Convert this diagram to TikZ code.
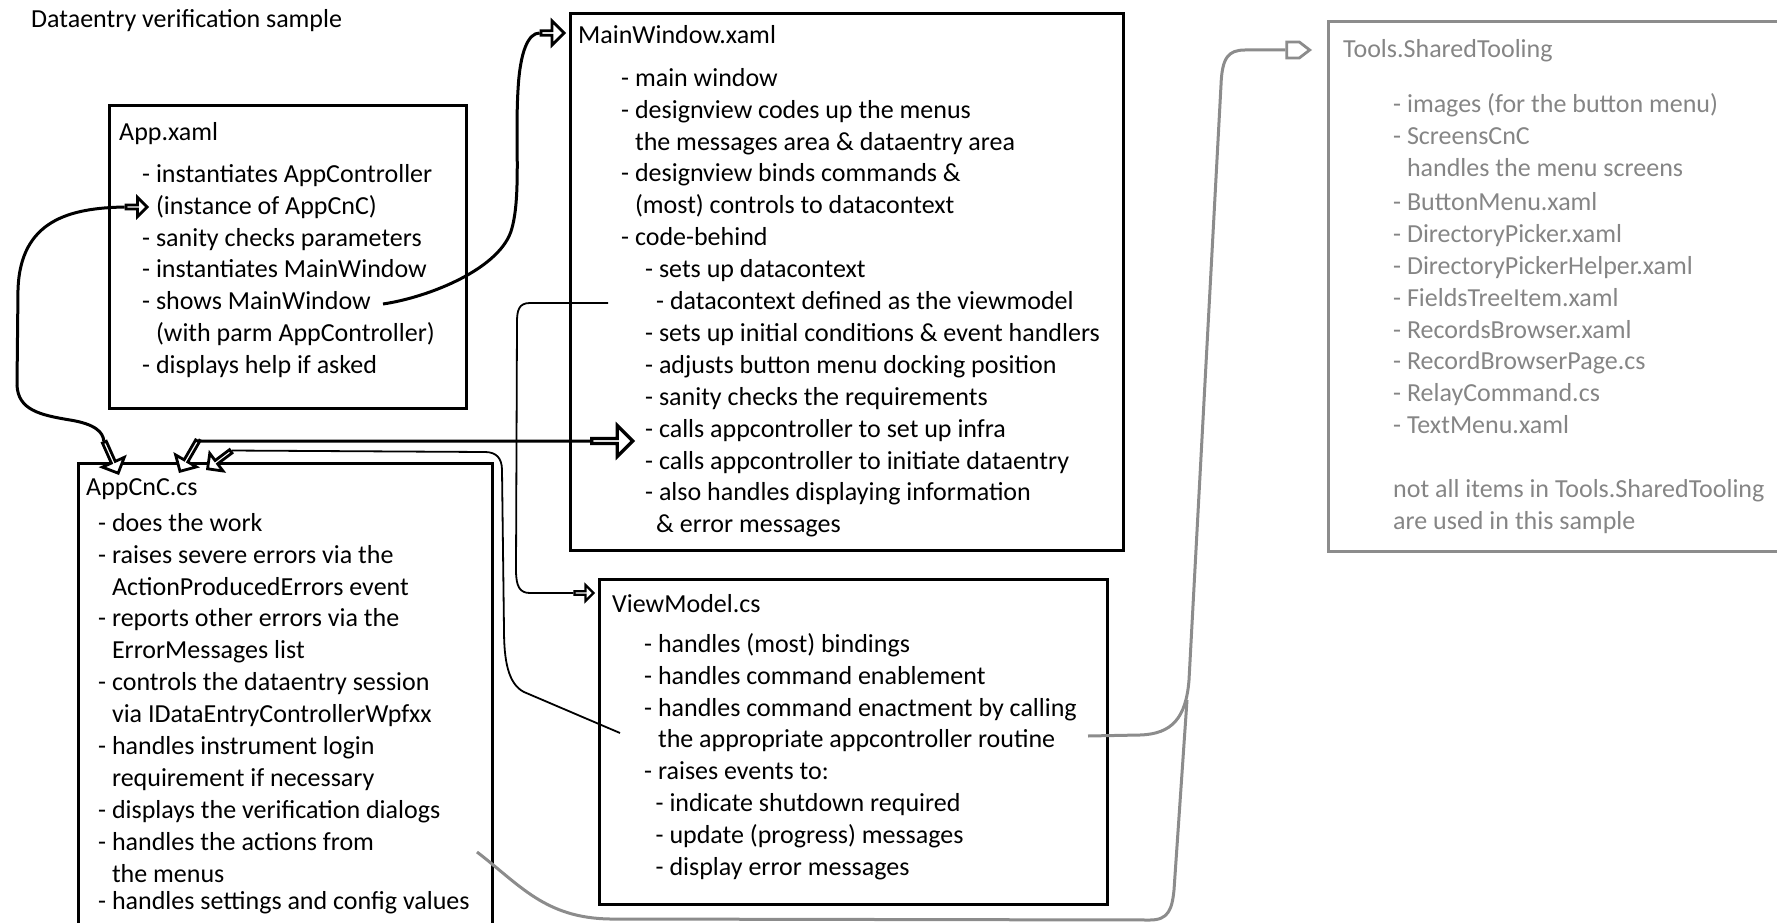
\documentclass[tikz,border=0pt]{standalone}
\usepackage{fontspec}
\setmainfont{Carlito}
\usetikzlibrary{shapes.arrows}

\definecolor{toolgray}{HTML}{8C8C8C}
\definecolor{tooltext}{HTML}{858585}

\tikzset{
  box/.style={draw, line width=3.3pt, inner sep=0pt, anchor=north west},
  head/.style={inner sep=0pt, anchor=base west},
  body/.style={inner sep=0pt, anchor=north west, align=left},
  link/.style={line width=3pt},
  thinlink/.style={line width=1.8pt},
  graylink/.style={draw=toolgray, line width=3pt},
  % hollow block arrow: length, head width, head extend
  harrow/.style n args={3}{shape=single arrow, draw, fill=white,
    line width=2.8pt, inner sep=0pt, anchor=tip,
    minimum height=#1, minimum width=#2,
    single arrow head extend=#3, single arrow tip angle=90},
}

\begin{document}
\begin{tikzpicture}[x=1pt, y=-1pt, font=\fontsize{26}{31.9}\selectfont]
\clip (0,0) rectangle (1777,923);

% title
\node[head] (title) at (31,28) {Dataentry verification sample};

% ---------- boxes ----------
\node[box, minimum width=357pt, minimum height=303pt] (app) at (108,104) {};
\node[box, minimum width=553pt, minimum height=537pt] (mw) at (569,12) {};
\node[box, minimum width=414pt, minimum height=480pt] (cnc) at (77,462) {};
\node[box, minimum width=508pt, minimum height=325pt] (vm) at (598,578) {};
\node[box, draw=toolgray, minimum width=500pt, minimum height=530pt] (tools) at (1327,20) {};

% ---------- App.xaml ----------
\node[head] (appT) at (119,140) {App.xaml};
\node[body] (appB) at (142,159.7) {\strut- instantiates AppController\\
\hphantom{- }(instance of AppCnC)\\
- sanity checks parameters\\
- instantiates MainWindow\\
- shows MainWindow\\
\hphantom{- }(with parm AppController)\\
- displays help if asked};

% ---------- MainWindow.xaml ----------
\node[head] (mwT) at (578,44) {MainWindow.xaml};
\node[body] (mwB) at (621,63.7) {\strut- main window\\
- designview codes up the menus\\
\hphantom{- }the messages area \& dataentry area\\
- designview binds commands \&\\
\hphantom{- }(most) controls to datacontext\\
- code-behind\\
\hspace*{24pt}- sets up datacontext\\
\hspace*{35pt}- datacontext defined as the viewmodel\\
\hspace*{24pt}- sets up initial conditions \& event handlers\\
\hspace*{24pt}- adjusts button menu docking position\\
\hspace*{24pt}- sanity checks the requirements\\
\hspace*{24pt}- calls appcontroller to set up infra\\
\hspace*{24pt}- calls appcontroller to initiate dataentry\\
\hspace*{24pt}- also handles displaying information\\
\hspace*{35pt}\& error messages};

% ---------- AppCnC.cs ----------
\node[head] (cncT) at (86,495) {AppCnC.cs};
\node[body] (cncB) at (98,508.7) {\strut- does the work\\
- raises severe errors via the\\
\hphantom{- }ActionProducedErrors event\\
- reports other errors via the\\
\hphantom{- }ErrorMessages list\\
- controls the dataentry session\\
\hphantom{- }via IDataEntryControllerWpfxx\\
- handles instrument login\\
\hphantom{- }requirement if necessary\\
- displays the verification dialogs\\
- handles the actions from\\
\hphantom{- }the menus\\[-5pt]
- handles settings and config values};

% ---------- ViewModel.cs ----------
\node[head] (vmT) at (612,612) {ViewModel.cs};
\node[body] (vmB) at (644,629.7) {\strut- handles (most) bindings\\
- handles command enablement\\
- handles command enactment by calling\\
\hphantom{- }the appropriate appcontroller routine\\
- raises events to:\\
\hspace*{11.5pt}- indicate shutdown required\\
\hspace*{11.5pt}- update (progress) messages\\
\hspace*{11.5pt}- display error messages};

% ---------- Tools.SharedTooling ----------
\node[head, text=tooltext] (toolsT) at (1343,58) {Tools.SharedTooling};
\node[body, text=tooltext] (toolsB) at (1393,89.7) {\strut- images (for the button menu)\\
- ScreensCnC\\
\hphantom{- }handles the menu screens\\[2.5pt]
- ButtonMenu.xaml\\
- DirectoryPicker.xaml\\
- DirectoryPickerHelper.xaml\\
- FieldsTreeItem.xaml\\
- RecordsBrowser.xaml\\
- RecordBrowserPage.cs\\
- RelayCommand.cs\\
- TextMenu.xaml\\[31.9pt]
not all items in Tools.SharedTooling\\
are used in this sample};

% ---------- arrow heads ----------
\node[harrow={23pt}{24pt}{6pt}] (a1) at (566,33) {};
\node[harrow={21pt}{19pt}{5pt}] (a2) at (149,207) {};
\node[harrow={34pt}{24pt}{6.5pt}, rotate=-66] (a3) at (119,475) {};
\node[harrow={35pt}{24pt}{6.5pt}, rotate=-120] (a4) at (179,473) {};
\node[harrow={29pt}{22pt}{6pt}, rotate=-143] (a5) at (206,470) {};
\node[harrow={41pt}{31pt}{8.5pt}, line width=3.2pt] (a6) at (635,441) {};
\node[harrow={19pt}{16pt}{4pt}, line width=2.2pt] (a7) at (595,593) {};
\node[harrow={23pt}{16pt}{0pt}, draw=toolgray, line width=2.8pt,
      single arrow tip angle=75] (a8) at (1312,50) {};

% ---------- connectors ----------
\coordinate (aStart) at (383,304);
\coordinate (dStart) at (620,733);
\coordinate (eStart) at (608,303);
\coordinate (fStart) at (1088,736);
\coordinate (gStart) at (477,852);

% App.xaml shows MainWindow
\draw[link] (aStart) .. controls (430,297) and (502,268) .. (512,228)
  .. controls (521,195) and (515,140) .. (518,90)
  .. controls (520,52) and (528,33) .. (a1.tail);
% App.xaml <-> AppCnC.cs
\draw[link] (a2.tail) .. controls (70,208) and (20,220) .. (18,290)
  -- (17,385) .. controls (18,410) and (40,415) .. (70,420)
  .. controls (95,424) and (103,432) .. (a3.tail);
% MainWindow <-> AppCnC.cs
\draw[link] (a6.tail) -- (215,441) .. controls (205,441) and (200,442) .. (a4.tail);
% ViewModel -> AppCnC.cs
\draw[thinlink] (dStart) -- (524,692) .. controls (508,684) and (504,660) .. (504,630)
  -- (502,470) .. controls (502,458) and (496,452) .. (485,452) -- (a5.tail);
% MainWindow datacontext -> ViewModel
\draw[thinlink] (eStart) -- (530,303) .. controls (519,303) and (517,310) .. (517,322)
  -- (516,570) .. controls (516,587) and (520,593) .. (530,593) -- (a7.tail);
% links into Tools.SharedTooling
\draw[graylink] (fStart) -- (1140,735) .. controls (1172,734) and (1186,718) .. (1189,680)
  -- (1221,85) .. controls (1222,58) and (1228,50) .. (1245,50) -- (a8.tail);
\draw[graylink] (gStart) .. controls (520,885) and (545,918) .. (610,919)
  -- (1150,920) .. controls (1168,920) and (1172,910) .. (1174,890) -- (1187,700);
\end{tikzpicture}
\end{document}
